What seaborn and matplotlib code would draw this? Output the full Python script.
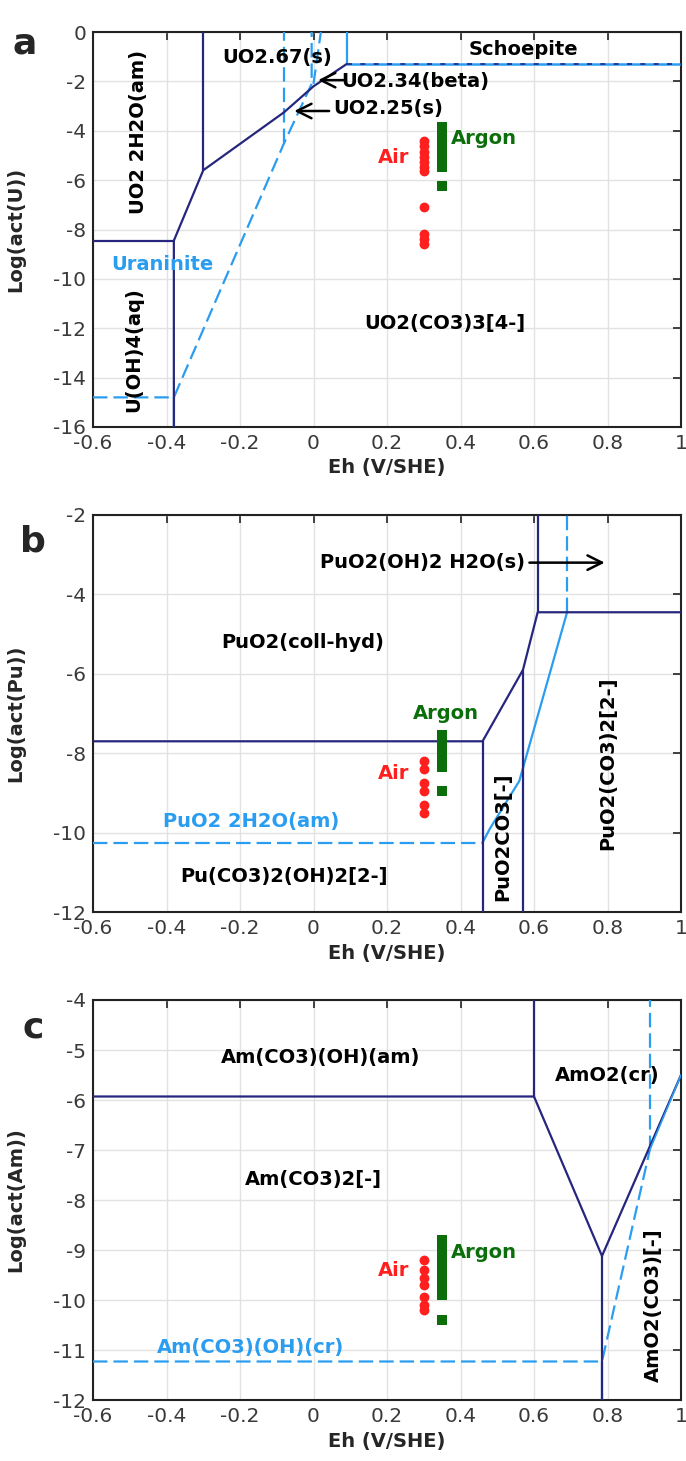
import matplotlib
matplotlib.use("Agg")
import numpy as np
import pandas as pd
import matplotlib.pyplot as plt
import seaborn as sns

sns.set_style("whitegrid")
plt.rcParams['font.family'] = ['DejaVu Sans']

NAVY = '#26267E'
LBLUE = '#2A9DF0'
RED = '#FF1F1F'
GREEN = '#0B6E0B'

# ---- data: Eh (V) / log activity ----
eh_ticks = [-0.6, -0.4, -0.2, 0, 0.2, 0.4, 0.6, 0.8, 1]
eh_tick_labels = ['-0.6', '-0.4', '-0.2', '0', '0.2', '0.4', '0.6', '0.8', '1']

# panel a - uranium
u_air = [-4.4, -4.6, -4.85, -5.05, -5.25, -5.45, -5.65, -7.1, -8.2, -8.4, -8.6]
u_argon = [-3.85, -4.05, -4.25, -4.45, -4.65, -4.85, -5.05, -5.25, -5.45, -6.25]
u_navy_main = [(-0.38, -16), (-0.38, -8.45), (-0.3, -5.6), (-0.08, -3.25), (0.0, -2.2), (0.09, -1.3)]
u_navy_left = [(-0.6, -8.45), (-0.38, -8.45)]
u_navy_am = [(-0.3, -5.6), (-0.3, 0)]
u_schoepite = [(0.09, -1.3), (1.0, -1.3)]
u_blue_uraninite = [(-0.6, -14.8), (-0.38, -14.8), (-0.08, -4.5), (-0.005, -2.1), (-0.005, 0)]
u_blue_v1 = [(-0.08, -4.5), (-0.08, 0)]
u_blue_v2 = [(0.0, -2.1), (0.02, 0)]
u_blue_low = [(-0.38, -14.8), (-0.38, -16)]
u_blue_top = [(0.09, -1.3), (0.09, 0)]

# panel b - plutonium
pu_air = [-8.2, -8.4, -8.75, -8.95, -9.3, -9.5]
pu_argon = [-7.55, -7.65, -7.75, -7.85, -7.95, -8.05, -8.15, -8.25, -8.35, -8.95]
pu_navy_main = [(-0.6, -7.7), (0.46, -7.7), (0.57, -5.9), (0.61, -4.45), (1.0, -4.45)]
pu_navy_v1 = [(0.46, -12), (0.46, -7.7)]
pu_navy_v2 = [(0.57, -12), (0.57, -5.9)]
pu_navy_v3 = [(0.61, -4.45), (0.61, -2)]
pu_blue_am = [(-0.6, -10.25), (0.46, -10.25)]
pu_blue_diag = [(0.46, -10.25), (0.48, -9.9), (0.56, -8.7), (0.69, -4.45)]
pu_blue_v = [(0.69, -4.45), (0.69, -2)]

# panel c - americium
am_air = [-9.2, -9.4, -9.55, -9.7, -9.95, -10.1, -10.2]
am_argon = [-8.8, -8.9, -9.0, -9.1, -9.2, -9.3, -9.4, -9.5, -9.6, -9.7, -9.8, -9.9, -10.4]
am_navy_main = [(-0.6, -5.93), (0.6, -5.93), (0.785, -9.12), (1.0, -5.5)]
am_navy_v1 = [(0.6, -5.93), (0.6, -4)]
am_navy_v2 = [(0.785, -9.12), (0.785, -12)]
am_blue_cr = [(-0.6, -11.23), (0.785, -11.23), (0.915, -7.0)]
am_blue_v = [(0.915, -7.0), (0.915, -4)]
am_blue_diag = [(0.915, -7.0), (1.0, -5.5)]
am_blue_low = [(0.785, -11.23), (0.785, -12)]

air_eh = 0.3
argon_eh = 0.35

fig = plt.figure(figsize=(6.86, 14.61), dpi=100)
W, H = 686, 1461
left, right = 93, 681


def make_ax(top, bottom):
    return fig.add_axes([left / W, 1 - bottom / H, (right - left) / W, (bottom - top) / H])


def line(ax, pts, color, dashed=False, lw=1.6, dashes=(6.5, 2.7), z=3):
    xs, ys = zip(*pts)
    if dashed:
        ax.plot(xs, ys, color=color, lw=lw, dashes=dashes, zorder=z)
    else:
        ax.plot(xs, ys, color=color, lw=lw, zorder=z)


def style(ax, ymin, ymax, ystep, ylabel):
    ax.set_xlim(-0.6, 1)
    ax.set_ylim(ymin, ymax)
    ax.set_xticks(eh_ticks)
    ax.set_xticklabels(eh_tick_labels)
    yt = np.arange(ymin, ymax + 0.01, ystep)
    ax.set_yticks(yt)
    ax.set_yticklabels([f"{v:g}" for v in yt])
    ax.tick_params(direction='in', top=True, right=True, length=6, width=1.2,
                   labelsize=14.5, labelcolor='#3a3a3a', color='#222222', pad=5)
    ax.grid(True, color='#E2E2E2', lw=1)
    for s in ax.spines.values():
        s.set_color('#222222')
        s.set_linewidth(1.5)
    ax.set_xlabel('Eh (V/SHE)', fontsize=14, fontweight='bold', labelpad=4)
    ax.set_ylabel(ylabel, fontsize=14, fontweight='bold')
    ax.yaxis.set_label_coords(-0.115, 0.5)


def points(ax, air, argon):
    d_air = pd.DataFrame({'eh': [air_eh] * len(air), 'log': air})
    d_arg = pd.DataFrame({'eh': [argon_eh] * len(argon), 'log': argon})
    sns.scatterplot(data=d_air, x='eh', y='log', ax=ax, color=RED, s=50,
                    marker='o', linewidth=0, zorder=5)
    sns.scatterplot(data=d_arg, x='eh', y='log', ax=ax, color=GREEN, s=58,
                    marker='s', linewidth=0, zorder=5)


def txt(ax, x, y, s, color='black', rot=0, ha='center', size=14):
    ax.text(x, y, s, color=color, rotation=rot, ha=ha, va='center',
            fontsize=size, fontweight='bold', zorder=6)


def arrow(ax, tip, tail):
    ax.annotate('', xy=tip, xytext=tail,
                arrowprops=dict(arrowstyle='->', color='black', lw=1.8,
                                mutation_scale=26), zorder=6)


# ---- panel a ----
ax = make_ax(32, 427)
style(ax, -16, 0, 2, 'Log(act(U))')
line(ax, u_blue_uraninite, LBLUE, dashed=True)
line(ax, u_blue_v1, LBLUE, dashed=True)
line(ax, u_blue_v2, LBLUE, dashed=True)
line(ax, u_blue_low, LBLUE)
line(ax, u_blue_top, LBLUE)
line(ax, u_schoepite, LBLUE, lw=1.8)
line(ax, u_schoepite, NAVY, dashed=True, lw=1.2, dashes=(3, 5), z=4)
line(ax, u_navy_main, NAVY)
line(ax, u_navy_left, NAVY)
line(ax, u_navy_am, NAVY)
points(ax, u_air, u_argon)
txt(ax, -0.1, -1.05, 'UO2.67(s)')
txt(ax, 0.57, -0.7, 'Schoepite')
txt(ax, -0.475, -4.05, 'UO2 2H2O(am)', rot=90)
txt(ax, 0.075, -2.0, 'UO2.34(beta)', ha='left')
txt(ax, 0.055, -3.1, 'UO2.25(s)', ha='left')
arrow(ax, (0.005, -1.95), (0.09, -1.95))
arrow(ax, (-0.06, -3.2), (0.05, -3.2))
txt(ax, 0.26, -5.1, 'Air', color=RED, ha='right')
txt(ax, 0.375, -4.3, 'Argon', color=GREEN, ha='left')
txt(ax, -0.41, -9.4, 'Uraninite', color=LBLUE)
txt(ax, -0.49, -12.85, 'U(OH)4(aq)', rot=90)
txt(ax, 0.357, -11.8, 'UO2(CO3)3[4-]')

# ---- panel b ----
ax = make_ax(515, 912)
style(ax, -12, -2, 2, 'Log(act(Pu))')
line(ax, pu_blue_am, LBLUE, dashed=True)
line(ax, pu_blue_diag, LBLUE)
line(ax, pu_blue_v, LBLUE, dashed=True)
line(ax, pu_navy_main, NAVY)
line(ax, pu_navy_v1, NAVY)
line(ax, pu_navy_v2, NAVY)
line(ax, pu_navy_v3, NAVY)
points(ax, pu_air, pu_argon)
txt(ax, 0.575, -3.2, 'PuO2(OH)2 H2O(s)', ha='right')
arrow(ax, (0.8, -3.2), (0.58, -3.2))
txt(ax, -0.03, -5.2, 'PuO2(coll-hyd)')
txt(ax, 0.36, -7.0, 'Argon', color=GREEN)
txt(ax, 0.26, -8.5, 'Air', color=RED, ha='right')
txt(ax, -0.17, -9.73, 'PuO2 2H2O(am)', color=LBLUE)
txt(ax, -0.08, -11.1, 'Pu(CO3)2(OH)2[2-]')
txt(ax, 0.515, -10.1, 'PuO2CO3[-]', rot=90)
txt(ax, 0.8, -8.25, 'PuO2(CO3)2[2-]', rot=90)

# ---- panel c ----
ax = make_ax(1000, 1400)
style(ax, -12, -4, 1, 'Log(act(Am))')
line(ax, am_blue_cr, LBLUE, dashed=True)
line(ax, am_blue_v, LBLUE, dashed=True)
line(ax, am_blue_low, LBLUE)
line(ax, am_navy_main, NAVY)
line(ax, am_navy_v1, NAVY)
line(ax, am_navy_v2, NAVY)
line(ax, am_blue_diag, LBLUE, lw=1.2, z=4)
points(ax, am_air, am_argon)
txt(ax, 0.02, -5.15, 'Am(CO3)(OH)(am)')
txt(ax, 0.8, -5.5, 'AmO2(cr)')
txt(ax, 0.0, -7.6, 'Am(CO3)2[-]')
txt(ax, 0.26, -9.4, 'Air', color=RED, ha='right')
txt(ax, 0.375, -9.05, 'Argon', color=GREEN, ha='left')
txt(ax, -0.17, -10.95, 'Am(CO3)(OH)(cr)', color=LBLUE)
txt(ax, 0.925, -10.1, 'AmO2(CO3)[-]', rot=90)

# panel letters
fig.text(12 / W, 1 - 44 / H, 'a', fontsize=26, fontweight='bold', va='center', ha='left')
fig.text(20 / W, 1 - 542 / H, 'b', fontsize=26, fontweight='bold', va='center', ha='left')
fig.text(22 / W, 1 - 1028 / H, 'c', fontsize=26, fontweight='bold', va='center', ha='left')

fig.savefig('out.png', dpi=100)
